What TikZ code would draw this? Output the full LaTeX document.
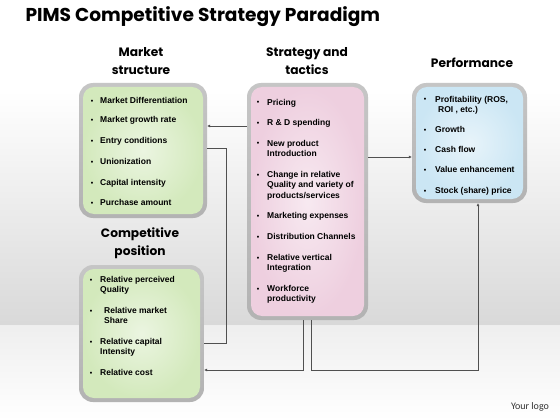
\documentclass[tikz,border=0pt]{standalone}
\usepackage{fontspec}
\setmainfont{Liberation Sans}
\newfontfamily\headfont{Poppins}
\newfontfamily\logofont{Carlito}
\usetikzlibrary{arrows.meta}

\definecolor{mktgreen}{HTML}{D3E9BC}
\definecolor{stratpink}{HTML}{EECFDF}
\definecolor{perfblue}{HTML}{CBE6F4}
\definecolor{wire}{HTML}{505050}

\tikzset{
  bezel/.style={rounded corners=14pt, shade, top color=gray!45, middle color=black!70, bottom color=gray!60, inner sep=0pt},
  face/.style={rounded corners=11pt, shade, inner color=#1!45!white, outer color=#1, inner sep=0pt},
  heading/.style={font=\headfont\bfseries\fontsize{12.2}{18}\selectfont, align=center},
  bul/.style={anchor=base, yshift=-3pt, font=\bfseries\fontsize{7}{10}\selectfont, inner sep=0pt},
  itm/.style={anchor=north west, yshift=3pt, font=\bfseries\fontsize{8.5}{10.4}\selectfont, align=left, inner sep=0pt},
  conn/.style={draw=wire, line width=0.7pt},
  tip/.style={-{Latex[length=3pt,width=3pt]}}
}

\begin{document}
\begin{tikzpicture}[x=1pt, y=-1pt]

  % --- Background ---
  \useasboundingbox (0,0) rectangle (560,420);
  \fill[white] (0,0) rectangle (560,420);
  \shade[top color=white, bottom color=gray!30] (0,90) rectangle (560,325);
  \shade[top color=gray!13, bottom color=white] (0,325) rectangle (560,420);

  % --- Title ---
  \node[font=\headfont\bfseries\fontsize{18.6}{22}\selectfont, anchor=west] (title) at (22,17) {PIMS Competitive Strategy Paradigm};

  % --- Headings ---
  \node[heading] (hmkt) at (141,61) {Market\\structure};
  \node[heading] (hstrat) at (307,61) {Strategy and\\tactics};
  \node[heading] (hperf) at (472,63) {Performance};
  \node[heading] (hcomp) at (140,243) {Competitive\\position};

  % --- Boxes ---
  \node[bezel, minimum width=128pt, minimum height=135pt] (mkt) at (143,150.5) {};
  \node[face=mktgreen, minimum width=120pt, minimum height=127pt] (mktin) at (mkt) {};

  \node[bezel, minimum width=121pt, minimum height=237pt] (strat) at (307.5,201.5) {};
  \node[face=stratpink, minimum width=113pt, minimum height=229pt] (stratin) at (strat) {};

  \node[bezel, minimum width=115pt, minimum height=120pt] (perf) at (469.5,143) {};
  \node[face=perfblue, minimum width=107pt, minimum height=112pt] (perfin) at (perf) {};

  \node[bezel, minimum width=125pt, minimum height=137pt] (comp) at (141.5,333.5) {};
  \node[face=mktgreen, minimum width=117pt, minimum height=129pt] (compin) at (comp) {};

  % --- Market structure items ---
  \foreach \y/\t [count=\i] in {100/Market Differentiation, 119/Market growth rate,
      140/Entry conditions, 161/Unionization, 182/Capital intensity, 202/Purchase amount} {
    \node[bul] (mb\i) at (92,\y) {\textbullet};
    \node[itm] (mt\i) at (100,\y) {\t};
  }

  % --- Strategy and tactics items ---
  \foreach \y/\t [count=\i] in {102/Pricing, 122/R \& D spending,
      143/{New product\\Introduction},
      174/{Change in relative\\Quality and variety of\\products/services},
      215/Marketing expenses, 236/Distribution Channels,
      257/{Relative vertical\\Integration}, 288/{Workforce\\productivity}} {
    \node[bul] (sb\i) at (258,\y) {\textbullet};
    \node[itm] (st\i) at (267,\y) {\t};
  }

  % --- Performance items ---
  \foreach \y/\t [count=\i] in {99/{Profitability (ROS,\\\hspace*{3pt}ROI , etc.)}, 129/Growth,
      149/Cash flow, 169/Value enhancement, 190/Stock (share) price} {
    \node[bul] (pb\i) at (425,\y) {\textbullet};
    \node[itm] (pt\i) at (435,\y) {\t};
  }

  % --- Competitive position items ---
  \foreach \y/\t [count=\i] in {279/{Relative perceived\\Quality}, 310/{\hspace*{4pt}Relative market\\\hspace*{4pt}Share},
      341/{Relative capital\\Intensity}, 372/Relative cost} {
    \node[bul] (cb\i) at (91,\y) {\textbullet};
    \node[itm] (ct\i) at (100,\y) {\t};
  }

  % --- Connectors ---
  \draw[conn, tip] (strat.west |- 0,126) -- (mkt.east |- 0,126);
  \draw[conn] (mkt.east |- 0,148) -- (226,148) -- (226,343) -- (comp.east |- 0,343);
  \draw[conn, tip] (strat.south -| 303,0) -- (303,370) -- (comp.east |- 0,370);
  \draw[conn, tip] (strat.south -| 311,0) -- (311,370) -| (perf.south -| 478,0);
  \draw[conn, tip] (strat.east |- 0,157) -- (perf.west |- 0,157);

  % --- Logo ---
  \node[font=\logofont\fontsize{10}{12}\selectfont, text=black!80] (logo) at (530,407) {Your logo};

\end{tikzpicture}
\end{document}
